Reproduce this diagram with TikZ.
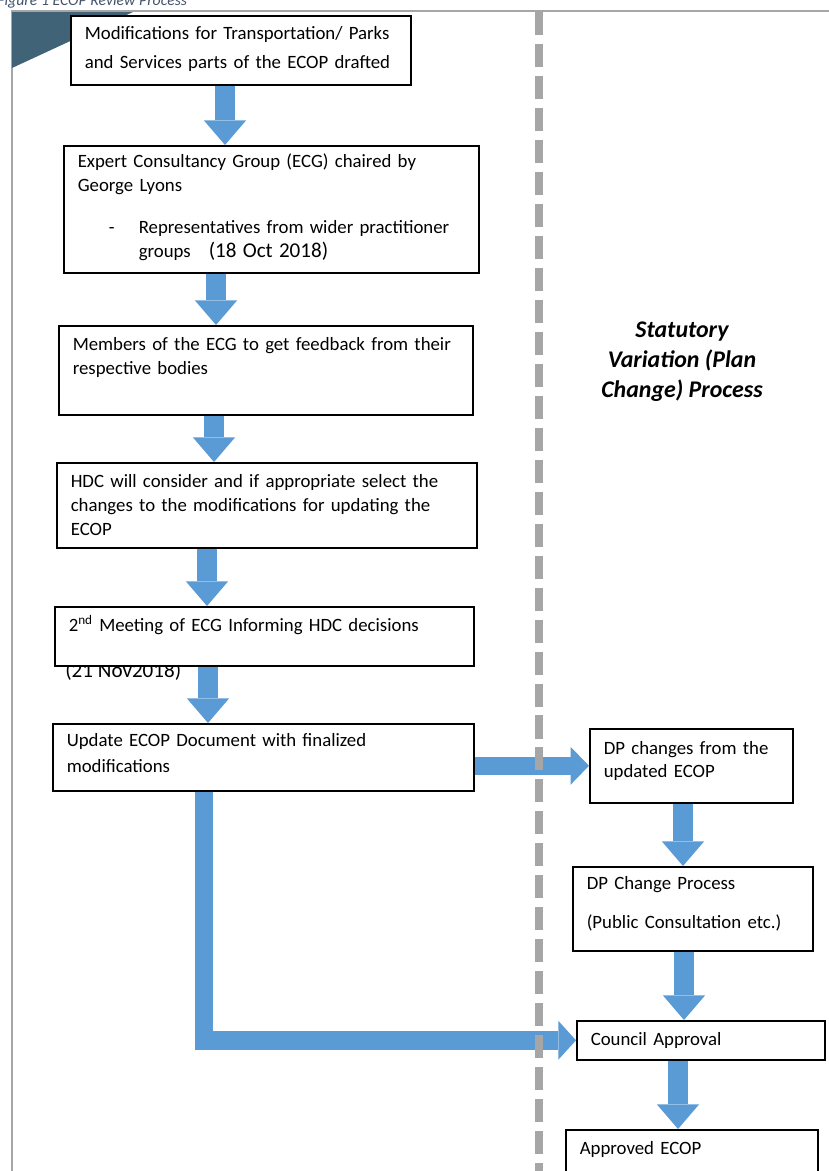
\documentclass[tikz,border=0pt]{standalone}
\usepackage{fontspec}
\setmainfont{Carlito}
\usetikzlibrary{positioning,arrows.meta,calc}

\definecolor{arrowblue}{RGB}{91,155,213}
\definecolor{framegray}{RGB}{166,166,166}
\definecolor{cornerteal}{RGB}{64,99,120}
\definecolor{captiongray}{RGB}{68,84,106}

\tikzset{
	box/.style={draw,line width=0.9pt,fill=white,anchor=north west,align=left,inner xsep=0.28cm,inner ysep=0pt,font=\fontsize{10.7}{13.6}\selectfont},
	blockdown/.style={arrowblue,line width=11.4pt,-{Triangle[width=24pt,length=14pt,line width=0pt]}},
	blockright/.style={arrowblue,line width=10pt,-{Triangle[width=21.6pt,length=10.5pt,line width=0pt]}},
	blockbend/.style={arrowblue,line width=10.8pt,line join=miter,-{Triangle[width=22pt,length=10pt,line width=0pt]}},
	datetext/.style={font=\fontsize{12}{14}\selectfont,inner sep=0pt,anchor=base west}
}

\begin{document}
\begin{tikzpicture}[x=0.02cm,y=-0.02cm]
			
			\useasboundingbox (0,0) rectangle (829,1171);
			\clip (0,0) rectangle (829,1171);
			
			\node[anchor=base west,inner sep=0pt,text=captiongray,font=\fontsize{9}{11}\selectfont\itshape] (cap) at (-3,5) {Figure 1 ECOP Review Process};
			\draw[framegray,line width=1.1pt] (829,11) -- (12,11) -- (12,1171);
			\fill[cornerteal] (12,12) -- (133,12) -- (12,68) -- cycle;
			
			\node[box,minimum width=6.8cm,text width=6.24cm,text height=0.48cm,text depth=0.9cm,font=\fontsize{10.7}{16.5}\selectfont] (mods) at (70,15) {Modifications for Transportation/ Parks\\and Services parts of the ECOP drafted};
			\node[box,minimum width=8.3cm,text width=7.74cm,text height=0.44cm,text depth=2.1cm] (ecg) at (63,145) {Expert Consultancy Group (ECG) chaired by\\George Lyons\\[0.36cm]\hspace*{0.62cm}\makebox[0.6cm][l]{-}Representatives from wider practitioner\\\hspace*{1.22cm}groups\hspace{0.36cm}{\fontsize{12}{14}\selectfont(18 Oct 2018)}};
			\node[box,minimum width=8.28cm,text width=7.72cm,text height=0.5cm,text depth=1.28cm] (members) at (58,325) {Members of the ECG to get feedback from their\\respective bodies};
			\node[box,minimum width=8.4cm,text width=7.84cm,text height=0.5cm,text depth=1.2cm] (hdc) at (56,462) {HDC will consider and if appropriate select the\\changes to the modifications for updating the\\ECOP};
			\node[datetext] (nov) at (65,677) {(21 Nov2018)};
			\node[box,minimum width=8.38cm,text width=7.82cm,text height=0.5cm,text depth=0.68cm] (meet) at (54,606) {2\textsuperscript{nd} Meeting of ECG Informing HDC decisions};
			\node[box,minimum width=8.42cm,text width=7.86cm,text height=0.46cm,text depth=0.88cm,font=\fontsize{10.7}{14.8}\selectfont] (update) at (52,723) {Update ECOP Document with finalized\\modifications};
			
			\node[box,minimum width=4.06cm,text width=3.5cm,text height=0.52cm,text depth=0.96cm,font=\fontsize{10.7}{13.1}\selectfont] (dpch) at (589,728) {DP changes from the\\updated ECOP};
			\node[box,minimum width=4.8cm,text width=4.24cm,text height=0.46cm,text depth=1.22cm] (dpproc) at (572,866) {DP Change Process\\[0.3cm](Public Consultation etc.)};
			\node[box,minimum width=4.96cm,text width=4.4cm,text height=0.5cm,text depth=0.28cm] (council) at (576,1020) {Council Approval};
			\node[box,minimum width=5.04cm,text width=4.48cm,text height=0.5cm,text depth=1.2cm] (approved) at (565,1129) {Approved ECOP};
			
			% arrow columns
			\coordinate (c1) at (225,0);
			\coordinate (c2) at (216,0);
			\coordinate (c3) at (214,0);
			\coordinate (c4) at (207,0);
			\coordinate (c5) at (208,0);
			\coordinate (c6) at (204,0);
			\coordinate (c7) at (683,0);
			\coordinate (c8) at (684,0);
			\coordinate (c9) at (678,0);
			
			\draw[blockdown] (mods.south -| c1) -- (ecg.north -| c1);
			\draw[blockdown] (ecg.south -| c2) -- (members.north -| c2);
			\draw[blockdown] (members.south -| c3) -- (hdc.north -| c3);
			\draw[blockdown] (hdc.south -| c4) -- (meet.north -| c4);
			\draw[blockdown] (meet.south -| c5) -- (update.north -| c5);
			\draw[blockright] (update.east |- dpch.west) -- (dpch.west);
			\draw[blockdown] (dpch.south -| c7) -- (dpproc.north -| c7);
			\draw[blockdown] (dpproc.south -| c8) -- (council.north -| c8);
			\draw[blockdown] (council.south -| c9) -- (approved.north -| c9);
			\draw[blockbend] (update.south -| c6) |- (council.west);
			
			\draw[framegray,line width=4.5pt,dash pattern=on 13.1pt off 5.1pt] (539,12) -- (539,1171);
			
			\node[align=center,font=\fontsize{13.6}{17}\selectfont\bfseries\itshape] (stat) at (682,362) {Statutory\\Variation (Plan\\Change) Process};
			
		\end{tikzpicture}
\end{document}
